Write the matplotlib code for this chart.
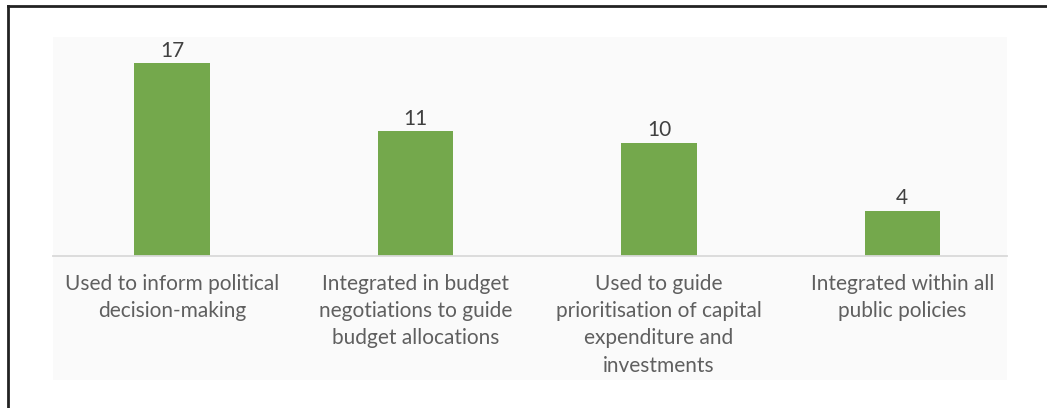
import matplotlib.pyplot as plt
from matplotlib.patches import Rectangle
from matplotlib.lines import Line2D

categories = ["Used to inform political\ndecision-making",
              "Integrated in budget\nnegotiations to guide\nbudget allocations",
              "Used to guide\nprioritisation of capital\nexpenditure and\ninvestments",
              "Integrated within all\npublic policies"]
counts = [17, 11, 10, 4]

plt.rcParams['font.family'] = ['Lato', 'DejaVu Sans']

W, H = 1047, 408
fig = plt.figure(figsize=(W / 100, H / 100), dpi=100)

# light panel behind the chart
fig.add_artist(Rectangle((53 / W, 1 - 380 / H), (1007 - 53) / W, (380 - 37) / H,
                         transform=fig.transFigure, facecolor='#fafafa',
                         edgecolor='none', zorder=-5))
# open frame on the left and top
fig.add_artist(Line2D([7.5 / W, 7.5 / W], [0, 1 - 5.5 / H], transform=fig.transFigure,
                      color='#222222', lw=2))
fig.add_artist(Line2D([7.5 / W, 1], [1 - 5.5 / H, 1 - 5.5 / H], transform=fig.transFigure,
                      color='#222222', lw=2))

ax = fig.add_axes([53 / W, 1 - 256 / H, (1007 - 53) / W, (256 - 37) / H])
ax.set_facecolor('none')

x = range(len(categories))
bars = ax.bar(x, counts, width=0.31, color='#74a84c', zorder=2)
for b, v in zip(bars, counts):
    ax.text(b.get_x() + b.get_width() / 2, v + 0.25, str(v), ha='center', va='bottom',
            fontsize=15, color='#404040')

ax.set_xlim(-0.489, 3.43)
ax.set_ylim(0, 19.33)
ax.set_yticks([])
ax.set_xticks(list(x))
ax.set_xticklabels(categories, fontsize=15, color='#5f5f5f', linespacing=1.45)
ax.tick_params(axis='x', length=0, pad=13)
for s in ['top', 'right', 'left']:
    ax.spines[s].set_visible(False)
ax.spines['bottom'].set_color('#d9d9d9')
ax.spines['bottom'].set_linewidth(1.3)

fig.savefig('out.png', dpi=100, facecolor='white')
